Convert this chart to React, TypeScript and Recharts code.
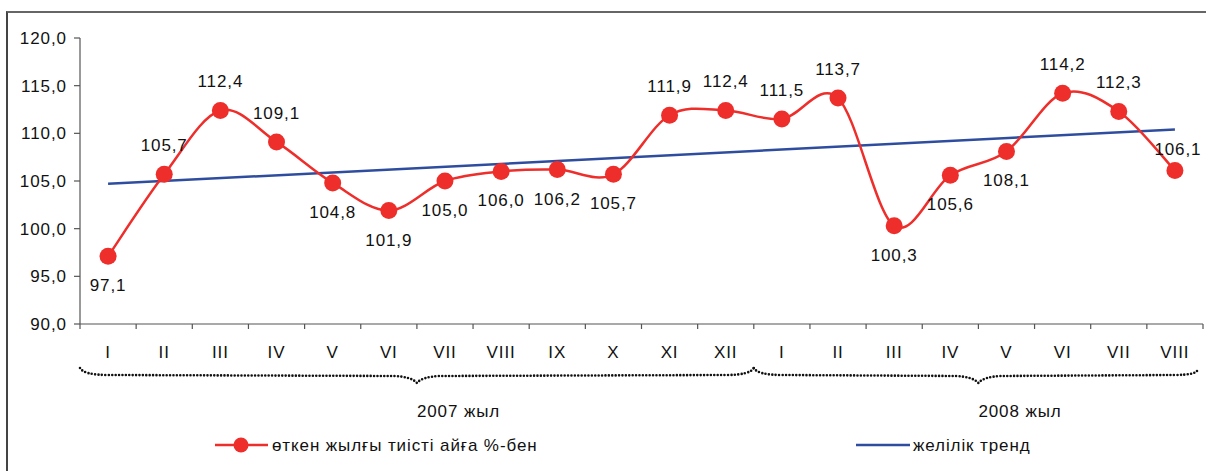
import { LineChart, Line, XAxis, YAxis } from "recharts";

// months along the x axis
const months = ["I", "II", "III", "IV", "V", "VI", "VII", "VIII", "IX", "X", "XI", "XII",
  "I", "II", "III", "IV", "V", "VI", "VII", "VIII"];
// % to the same month of the previous year
const values = [97.1, 105.7, 112.4, 109.1, 104.8, 101.9, 105.0, 106.0, 106.2, 105.7, 111.9, 112.4,
  111.5, 113.7, 100.3, 105.6, 108.1, 114.2, 112.3, 106.1];
// linear trend, read at the first and last month
const trendStart = 104.7;
const trendEnd = 110.4;
const yTicks = [90, 95, 100, 105, 110, 115, 120];
const years = [
  { label: "2007 жыл", from: 0, to: 12, mid: 6 },
  { label: "2008 жыл", from: 12, to: 20, mid: 16 },
];

// where each value label sits relative to its point
const labelSide = ["b", "t", "t", "t", "b", "b", "b", "b", "b", "b", "t", "t",
  "t", "t", "b", "b", "b", "t", "t", "tn"];

const RED = "#ee2e2b";
const BLUE = "#2f4d9f";
const FONT = "'Liberation Sans', Arial, sans-serif";
const FS = 17;
const LS = 0.9;

const W = 1206;
const H = 471;
const LEFT = 80;
const RIGHT = 1203;
const TOP = 38;
const AXIS_Y = 324;
const band = (RIGHT - LEFT) / months.length;

const data = values.map((v, i) => ({
  pos: i + 0.5,
  month: months[i],
  value: v,
  trend: i === 0 ? trendStart : i === values.length - 1 ? trendEnd : null,
}));

const xTicks = Array.from({ length: months.length * 2 + 1 }, (_, i) => i / 2);
const fmt = (v: number) => v.toFixed(1).replace(".", ",");

// Excel-like smoothed line (uniform Catmull-Rom as cubic beziers)
function excelSmooth(context: any) {
  let pts: [number, number][] = [];
  return {
    areaStart() {},
    areaEnd() {},
    lineStart() {
      pts = [];
    },
    lineEnd() {
      const n = pts.length;
      if (!n) return;
      context.moveTo(pts[0][0], pts[0][1]);
      for (let i = 0; i < n - 1; i++) {
        const p0 = pts[Math.max(i - 1, 0)];
        const p1 = pts[i];
        const p2 = pts[i + 1];
        const p3 = pts[Math.min(i + 2, n - 1)];
        context.bezierCurveTo(
          p1[0] + (p2[0] - p0[0]) / 6,
          p1[1] + (p2[1] - p0[1]) / 6,
          p2[0] - (p3[0] - p1[0]) / 6,
          p2[1] - (p3[1] - p1[1]) / 6,
          p2[0],
          p2[1]
        );
      }
    },
    point(x: number, y: number) {
      pts.push([+x, +y]);
    },
  };
}

function MonthTick(props: any) {
  const { x, y, payload } = props;
  const v = payload.value as number;
  if (Number.isInteger(v)) {
    return <line x1={x} x2={x} y1={y - 5} y2={y} stroke="#555" strokeWidth={1.2} />;
  }
  return (
    <text x={x} y={y + 29} textAnchor="middle" fontSize={FS} letterSpacing={LS} fill="#111" fontFamily={FONT}>
      {months[Math.floor(v)]}
    </text>
  );
}

function YTick(props: any) {
  const { x, y, payload } = props;
  return (
    <text x={x + LS} y={y + 6} textAnchor="end" fontSize={FS} letterSpacing={LS} fill="#111" fontFamily={FONT}>
      {fmt(payload.value)}
    </text>
  );
}

function ValueLabel(props: any) {
  const { x, y, value, index } = props;
  const side = labelSide[index];
  let ty = y - 29 + 6;
  let tx = x;
  if (side === "b") ty = y + 29 + 6;
  if (side === "tn") {
    ty = y - 22 + 6;
    tx = x + 3;
  }
  return (
    <text x={tx} y={ty} textAnchor="middle" fontSize={FS} letterSpacing={LS} fill="#111" fontFamily={FONT}>
      {fmt(value)}
    </text>
  );
}

function Dot(props: any) {
  const { cx, cy } = props;
  if (cx == null || cy == null) return null;
  return <circle cx={cx} cy={cy} r={8.5} fill={RED} stroke="none" />;
}

function bracePath(from: number, to: number, mid: number) {
  const x0 = LEFT + from * band;
  const x1 = LEFT + to * band;
  const xm = LEFT + mid * band;
  const top = 368;
  const flat = 376;
  const tip = 383;
  return [
    `M${x0},${top}`,
    `Q${x0 + 4},${flat - 1} ${x0 + 28},${flat - 1}`,
    `L${xm - 22},${flat}`,
    `Q${xm - 5},${flat + 1} ${xm},${tip}`,
    `Q${xm + 5},${flat + 1} ${xm + 22},${flat}`,
    `L${x1 - 28},${flat - 1}`,
    `Q${x1 - 4},${flat - 1} ${x1 - (to === months.length ? 5 : 0)},${top}`,
  ].join(" ");
}

function Overlay() {
  return (
    <svg width={W} height={H} style={{ position: "absolute", left: 0, top: 0, pointerEvents: "none" }}>
      {years.map((yr) => (
        <g key={yr.label}>
          <path
            d={bracePath(yr.from, yr.to, yr.mid)}
            fill="none"
            stroke="#111"
            strokeWidth={2.6}
            strokeDasharray="0 3.4"
            strokeLinecap="round"
          />
          <text x={LEFT + yr.mid * band} y={417} fontSize={FS} letterSpacing={LS} fill="#111" fontFamily={FONT}>
            {yr.label}
          </text>
        </g>
      ))}
      <line x1={215} x2={268} y1={445} y2={445} stroke={RED} strokeWidth={2.5} />
      <circle cx={241} cy={445} r={7.5} fill={RED} />
      <text x={272} y={451} fontSize={FS} letterSpacing={LS} fill="#111" fontFamily={FONT}>
        өткен жылғы тиісті айға %-бен
      </text>
      <line x1={856} x2={910} y1={445} y2={445} stroke={BLUE} strokeWidth={2.5} />
      <text x={913} y={451} fontSize={FS} letterSpacing={LS} fill="#111" fontFamily={FONT}>
        желілік тренд
      </text>
    </svg>
  );
}

export default function App() {
  return (
    <div style={{ position: "absolute", left: 0, top: 0, width: W, height: H, background: "#fff", overflow: "hidden" }}>
      <div
        style={{
          position: "absolute",
          left: 6,
          top: 11,
          width: W,
          height: H,
          borderLeft: "2px solid #444",
          borderTop: "2px solid #666",
        }}
      />
      <div style={{ position: "absolute", left: 0, top: 0 }}>
        <LineChart
          width={W}
          height={H}
          data={data}
          margin={{ top: TOP, right: W - RIGHT, left: 20, bottom: H - AXIS_Y - 30 }}
        >
          <XAxis
            dataKey="pos"
            type="number"
            domain={[0, months.length]}
            ticks={xTicks}
            interval={0}
            height={30}
            tickSize={5}
            tickMargin={0}
            tickLine={false}
            tick={<MonthTick />}
            axisLine={{ stroke: "#555", strokeWidth: 1.2 }}
          />
          <YAxis
            domain={[90, 120]}
            ticks={yTicks}
            width={LEFT - 20}
            tickSize={6}
            tickMargin={8}
            tick={<YTick />}
            axisLine={{ stroke: "#555", strokeWidth: 1.2 }}
            tickLine={{ stroke: "#555", strokeWidth: 1.2 }}
            interval={0}
          />
          <Line
            dataKey="trend"
            type="linear"
            connectNulls
            stroke={BLUE}
            strokeWidth={2.5}
            dot={false}
            activeDot={false}
            isAnimationActive={false}
          />
          <Line
            dataKey="value"
            type={excelSmooth as any}
            stroke={RED}
            strokeWidth={2.5}
            dot={<Dot />}
            activeDot={false}
            label={<ValueLabel />}
            isAnimationActive={false}
          />
        </LineChart>
      </div>
      <Overlay />
    </div>
  );
}
